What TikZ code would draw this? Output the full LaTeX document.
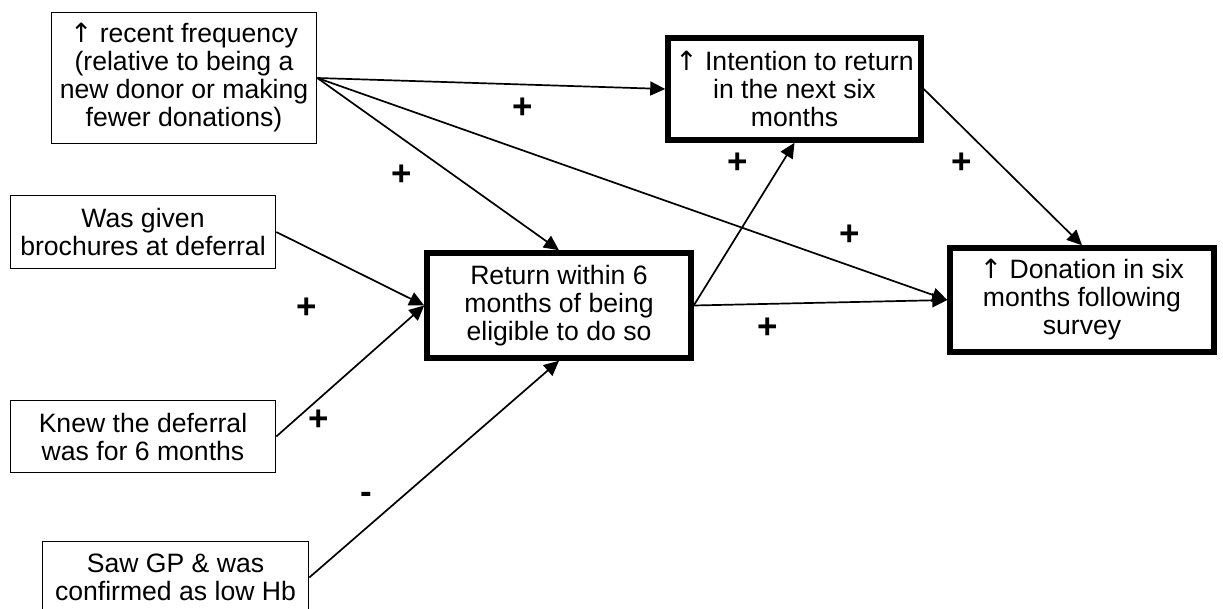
\documentclass[tikz,border=0pt]{standalone}
\usepackage{fontspec}
\setmainfont{Liberation Sans}
\newfontfamily\arrowfont{DejaVu Sans}
\newcommand{\upmark}{{\arrowfont ↑}}
\usetikzlibrary{arrows.meta}
\begin{document}
\begin{tikzpicture}[x=0.5pt,y=-0.5pt,
  box/.style={draw, line width=0.8pt, align=center, inner sep=0pt,
    font=\fontsize{13.3}{14}\selectfont},
  keybox/.style={box, line width=2.75pt},
  link/.style={line width=0.85pt, -{Triangle[length=7.5pt,width=7pt]}},
  sign/.style={font=\fontsize{17.5}{17.5}\bfseries\selectfont, inner sep=0pt}
]
\useasboundingbox (0,0) rectangle (1223,609);

% predictors
\node[box, minimum width=132.5pt, minimum height=65.5pt] (freq) at (184,78)
  {\upmark{} recent frequency\\(relative to being a\\new donor or making\\fewer donations)};
\node[box, minimum width=132.5pt, minimum height=36.5pt] (broch) at (143,232)
  {Was given\\brochures at deferral};
\node[box, minimum width=132.5pt, minimum height=36pt] (knew) at (143,436.5)
  {Knew the deferral\\was for 6 months};
\node[box, minimum width=133pt, minimum height=36pt] (gp) at (175.5,577.5)
  {Saw GP \& was\\confirmed as low Hb};

% outcomes
\node[keybox, minimum width=132pt, minimum height=52.5pt] (ret) at (559,305.5)
  {Return within 6\\months of being\\eligible to do so};
\node[keybox, minimum width=126.5pt, minimum height=51pt] (intent) at (794.5,89)
  {\upmark{} Intention to return\\in the next six\\months};
\node[keybox, minimum width=132pt, minimum height=52pt] (don) at (1082,300)
  {\upmark{} Donation in six\\months following\\survey};

% paths
\draw[link] (freq.east) -- (intent.west);
\draw[link] (freq.east) -- (ret.north);
\draw[link] (freq.east) -- (don.west);
\draw[link] (broch.east) -- (ret.west);
\draw[link] (knew.east) -- (ret.west);
\draw[link] (gp.east) -- (ret.south);
\draw[link] (ret.east) -- (intent.south);
\draw[link] (ret.east) -- (don.west);
\draw[link] (intent.east) -- (don.north);

% signs of the effects
\node[sign] (s1) at (523,108) {+};
\node[sign] (s2) at (402,175) {+};
\node[sign] (s3) at (850,235) {+};
\node[sign] (s4) at (738,163) {+};
\node[sign] (s5) at (962,163) {+};
\node[sign] (s6) at (307,308) {+};
\node[sign] (s7) at (319,420) {+};
\node[sign] (s8) at (768,328) {+};
\node[sign] (s9) at (366,498) {-};
\end{tikzpicture}
\end{document}
